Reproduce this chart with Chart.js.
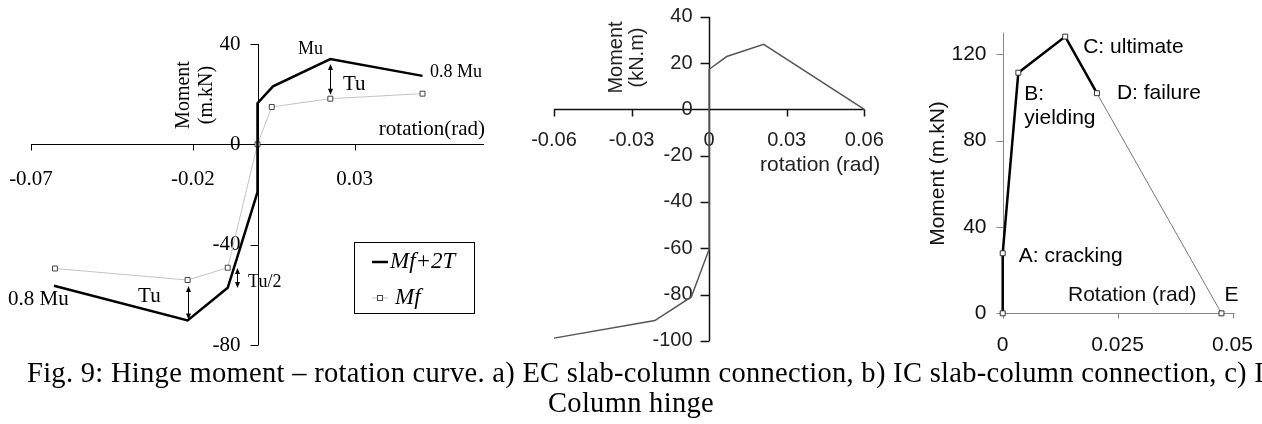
<!DOCTYPE html>
<html>
<head>
<meta charset="utf-8">
<script src="https://cdn.jsdelivr.net/npm/chart.js"></script>
<style>
body { margin: 0; background: #fff; width: 1262px; height: 424px; overflow: hidden; position: relative; }
canvas { position: absolute; top: 0; }
.cap { position: absolute; font-family: "Liberation Serif", serif; font-size: 28.5px; line-height: 28.5px; letter-spacing: 0.3px; white-space: nowrap; color: #000; }
</style>
</head>
<body>
<canvas id="chartEC" width="500" height="370" style="left:0px"></canvas>
<canvas id="chartIC" width="400" height="370" style="left:500px"></canvas>
<canvas id="chartCol" width="362" height="370" style="left:900px"></canvas>
<div class="cap" style="left:27px; top:359px;">Fig. 9: Hinge moment – rotation curve. a) EC slab-column connection, b) IC slab-column connection, c) I</div>
<div class="cap" style="left:0; width:1262px; text-align:center; top:389px;">Column hinge</div>
<script>
// a) EC slab-column connection
var ecRotation = [-0.0629, -0.0216, -0.0092, 0, 0, 0, 0.0048, 0.0225, 0.051];
var ecMomentTotal = [-56.4, -70.2, -57.2, -19.1, 0, 16.4, 23.1, 34, 27.3];
var ecRotationMf = [-0.0626, -0.0216, -0.0092, 0, 0.0044, 0.0225, 0.051];
var ecMomentMf = [-49.5, -54.1, -49.2, 0, 14.9, 18.2, 20.2];
var ecXTicks = [-0.07, -0.02, 0.03];
var ecXLabels = ['-0.07', '-0.02', '0.03'];
var ecYTicks = [40, 0, -40, -80];
var ecYLabels = ['40', '0', '-40', '-80'];

// b) IC slab-column connection
var icRotation = [-0.06, -0.021, -0.0069, 0, 0, 0.0068, 0.0211, 0.06];
var icMoment = [-98.8, -91.2, -81, -60.4, 17.3, 22.8, 28.1, 0];
var icXTicks = [-0.06, -0.03, 0, 0.03, 0.06];
var icXLabels = ['-0.06', '-0.03', '0', '0.03', '0.06'];
var icYTicks = [40, 20, 0, -20, -40, -60, -80, -100];
var icYLabels = ['40', '20', '0', '-20', '-40', '-60', '-80', '-100'];

// c) Column hinge
var colRotation = [0, 0, 0.0034, 0.0136, 0.0205];
var colMoment = [0, 27.8, 111.4, 128.1, 101.9];
var colFailRotation = [0.0205, 0.0476];
var colFailMoment = [101.9, 0];
var colPointLabels = ['', 'A: cracking', 'B:|yielding', 'C: ultimate', 'D: failure', 'E'];
var colXTicks = [0, 0.025, 0.05];
var colXLabels = ['0', '0.025', '0.05'];
var colYTicks = [0, 40, 80, 120];
var colYLabels = ['0', '40', '80', '120'];

var SERIF = '"Liberation Serif", serif';
var SANS = '"Liberation Sans", Arial, sans-serif';

function pts(xs, ys) {
    var out = [];
    for (var i = 0; i < xs.length; i++) {
        out.push({x: xs[i], y: ys[i]});
    }
    return out;
}

// crossing axes drawn from the chart's own scales
function axesPlugin(o) {
    return {
        id: 'crossAxes',
        beforeDatasetsDraw: function (chart) {
            var ctx = chart.ctx, sx = chart.scales.x, sy = chart.scales.y;
            var ax = Math.round(sx.getPixelForValue(0)) + 0.5;
            var ay = Math.round(sy.getPixelForValue(0)) + 0.5;
            ctx.save();
            ctx.strokeStyle = o.color;
            ctx.lineWidth = o.width;
            ctx.beginPath();
            ctx.moveTo(sx.getPixelForValue(o.xLine[0]), ay);
            ctx.lineTo(sx.getPixelForValue(o.xLine[1]), ay);
            ctx.moveTo(ax, sy.getPixelForValue(o.yLine[0]));
            ctx.lineTo(ax, sy.getPixelForValue(o.yLine[1]));
            o.xTicks.forEach(function (v) {
                var x = Math.round(sx.getPixelForValue(v)) + 0.5;
                ctx.moveTo(x, ay);
                ctx.lineTo(x, ay + o.xTickLen);
            });
            o.yTicks.forEach(function (v) {
                var y = Math.round(sy.getPixelForValue(v)) + 0.5;
                ctx.moveTo(ax, y);
                ctx.lineTo(ax - o.yTickLen, y);
            });
            ctx.stroke();
            ctx.fillStyle = o.textColor;
            ctx.font = o.font;
            ctx.textAlign = 'center';
            ctx.textBaseline = 'middle';
            o.xTicks.forEach(function (v, i) {
                ctx.fillText(o.xLabels[i], sx.getPixelForValue(v), ay + o.xLabelDy);
            });
            ctx.textAlign = 'right';
            o.yTicks.forEach(function (v, i) {
                ctx.fillText(o.yLabels[i], ax - o.yLabelDx, sy.getPixelForValue(v));
            });
            ctx.restore();
        }
    };
}

function drawArrow(ctx, x, y1, y2) {
    ctx.beginPath();
    ctx.moveTo(x, y1 + 3);
    ctx.lineTo(x, y2 - 3);
    ctx.stroke();
    [[y1, -1], [y2, 1]].forEach(function (h) {
        ctx.beginPath();
        ctx.moveTo(x, h[0]);
        ctx.lineTo(x - 2.5, h[0] - h[1] * 6);
        ctx.lineTo(x + 2.5, h[0] - h[1] * 6);
        ctx.closePath();
        ctx.fill();
    });
}

// text, arrows and legend on top of the data
function notesPlugin(o) {
    return {
        id: 'notes',
        afterDatasetsDraw: function (chart) {
            var ctx = chart.ctx, sx = chart.scales.x, sy = chart.scales.y;
            ctx.save();
            ctx.fillStyle = '#000';
            ctx.strokeStyle = '#000';
            ctx.lineWidth = 1;
            ctx.textBaseline = 'middle';
            (o.texts || []).forEach(function (t) {
                var x = t.px !== undefined ? t.px : sx.getPixelForValue(t.x);
                var y = t.py !== undefined ? t.py : sy.getPixelForValue(t.y);
                ctx.font = t.font;
                ctx.fillStyle = t.color || '#000';
                ctx.textAlign = t.align || 'left';
                if (t.rotate) {
                    ctx.save();
                    ctx.translate(x, y);
                    ctx.rotate(-Math.PI / 2);
                    ctx.textAlign = 'center';
                    ctx.fillText(t.text, 0, 0);
                    ctx.restore();
                } else {
                    ctx.fillText(t.text, x, y);
                }
            });
            ctx.fillStyle = '#000';
            (o.arrows || []).forEach(function (a) {
                var x = Math.round(sx.getPixelForValue(a.x)) + 0.5;
                drawArrow(ctx, x, sy.getPixelForValue(a.from), sy.getPixelForValue(a.to));
            });
            if (o.pointLabels) {
                var meta = chart.getDatasetMeta(o.pointLabels.dataset);
                ctx.font = o.pointLabels.font;
                ctx.textAlign = 'left';
                o.pointLabels.labels.forEach(function (lab, i) {
                    if (!lab) return;
                    var el = meta.data[i];
                    var off = o.pointLabels.offsets[i];
                    lab.split('|').forEach(function (line, k) {
                        ctx.fillText(line, el.x + off[0], el.y + off[1] + k * 24);
                    });
                });
            }
            if (o.legend) {
                var L = o.legend;
                ctx.lineWidth = 1;
                ctx.strokeStyle = '#000';
                ctx.strokeRect(L.left + 0.5, L.top + 0.5, L.width, L.height);
                ctx.font = L.font;
                ctx.textAlign = 'left';
                chart.data.datasets.forEach(function (ds, i) {
                    var y = L.top + L.rows[i];
                    ctx.strokeStyle = ds.borderColor;
                    ctx.lineWidth = ds.borderWidth;
                    ctx.beginPath();
                    ctx.moveTo(L.left + 18, y);
                    ctx.lineTo(L.left + 34, y);
                    ctx.stroke();
                    if (ds.pointRadius) {
                        ctx.fillStyle = ds.pointBackgroundColor;
                        ctx.strokeStyle = ds.pointBorderColor;
                        ctx.lineWidth = 1;
                        ctx.fillRect(L.left + 23.5, y - 2.5, 5, 5);
                        ctx.strokeRect(L.left + 23.5, y - 2.5, 5, 5);
                    }
                    ctx.fillStyle = '#000';
                    ctx.fillText(ds.label, L.left + L.textX[i], y);
                });
            }
            ctx.restore();
        }
    };
}

function opts(pad, xMin, xMax, yMin, yMax) {
    return {
        responsive: false,
        animation: false,
        events: [],
        layout: {padding: pad},
        plugins: {legend: {display: false}, tooltip: {enabled: false}},
        scales: {
            x: {type: 'linear', min: xMin, max: xMax, display: false},
            y: {type: 'linear', min: yMin, max: yMax, display: false}
        }
    };
}

// ---- a) EC ----
new Chart(document.getElementById('chartEC'), {
    type: 'scatter',
    data: {
        datasets: [
            {
                label: 'Mf+2T',
                data: pts(ecRotation, ecMomentTotal),
                showLine: true,
                borderColor: '#000',
                borderWidth: 2.5,
                pointRadius: 0,
                clip: false
            },
            {
                label: 'Mf',
                data: pts(ecRotationMf, ecMomentMf),
                showLine: true,
                borderColor: '#c4c4c4',
                borderWidth: 1,
                pointStyle: 'rect',
                pointRadius: 3.5,
                pointBackgroundColor: '#fff',
                pointBorderColor: '#444',
                pointBorderWidth: 1,
                clip: false
            }
        ]
    },
    options: opts({left: 31, right: 16, top: 44, bottom: 25}, -0.07, 0.07, -80, 40),
    plugins: [
        axesPlugin({
            color: '#000', width: 1, textColor: '#000', font: '21px ' + SERIF,
            xLine: [-0.07, 0.07], yLine: [-80, 40],
            xTicks: ecXTicks, xLabels: ecXLabels, yTicks: ecYTicks, yLabels: ecYLabels,
            xTickLen: 6, yTickLen: 8, xLabelDy: 35, yLabelDx: 18
        }),
        notesPlugin({
            texts: [
                {x: 0.0164, y: 38.0, text: 'Mu', font: '18px ' + SERIF, align: 'center'},
                {x: 0.0533, y: 28.8, text: '0.8 Mu', font: '18px ' + SERIF},
                {x: 0.0264, y: 24.0, text: 'Tu', font: '21px ' + SERIF},
                {x: 0.0703, y: 6.1, text: 'rotation(rad)', font: '21px ' + SERIF, align: 'right'},
                {x: -0.0771, y: -61.7, text: '0.8 Mu', font: '21px ' + SERIF},
                {x: -0.0369, y: -60.5, text: 'Tu', font: '21px ' + SERIF},
                {x: -0.0029, y: -54.9, text: 'Tu/2', font: '18px ' + SERIF},
                {px: 183.5, py: 95, text: 'Moment', font: '20px ' + SERIF, rotate: true},
                {px: 207, py: 95, text: '(m.kN)', font: '20px ' + SERIF, rotate: true}
            ],
            arrows: [
                {x: 0.0225, from: 32, to: 19.8},
                {x: -0.0216, from: -56.5, to: -69.8},
                {x: -0.0063, from: -49.3, to: -57.3}
            ],
            legend: {
                left: 354, top: 242, width: 120, height: 71, font: 'italic 23px ' + SERIF,
                rows: [20, 56], textX: [36, 41]
            }
        })
    ]
});

// ---- b) IC ----
new Chart(document.getElementById('chartIC'), {
    type: 'scatter',
    data: {
        datasets: [{
            label: 'IC',
            data: pts(icRotation, icMoment),
            showLine: true,
            borderColor: '#555',
            borderWidth: 1.5,
            pointRadius: 0,
            clip: false
        }]
    },
    options: opts({left: 54, right: 35.7, top: 16.7, bottom: 29.1}, -0.06, 0.06, -100, 40),
    plugins: [
        axesPlugin({
            color: '#111', width: 1.5, textColor: '#222', font: '20px ' + SANS,
            xLine: [-0.06, 0.06], yLine: [-100, 40],
            xTicks: icXTicks, xLabels: icXLabels, yTicks: icYTicks, yLabels: icYLabels,
            xTickLen: 7, yTickLen: 9, xLabelDy: 31, yLabelDx: 17
        }),
        notesPlugin({
            texts: [
                {px: 116, py: 57.5, text: 'Moment', font: '20px ' + SANS, color: '#222', rotate: true},
                {px: 137, py: 57.5, text: '(kN.m)', font: '20px ' + SANS, color: '#222', rotate: true},
                {px: 260, py: 165, text: 'rotation (rad)', font: '21px ' + SANS, color: '#222'}
            ]
        })
    ]
});

// ---- c) Column hinge ----
new Chart(document.getElementById('chartCol'), {
    type: 'scatter',
    data: {
        datasets: [
            {
                label: 'hinge',
                data: pts(colRotation, colMoment).concat([{x: colFailRotation[1], y: colFailMoment[1]}]),
                showLine: true,
                borderColor: '#000',
                borderWidth: 2.5,
                segment: {
                    borderColor: function (c) { return c.p1DataIndex === 5 ? '#777' : '#000'; },
                    borderWidth: function (c) { return c.p1DataIndex === 5 ? 1 : 2.5; }
                },
                pointStyle: 'rect',
                pointRadius: 3.5,
                pointBackgroundColor: '#fff',
                pointBorderColor: '#333',
                pointBorderWidth: 1,
                clip: false
            }
        ]
    },
    options: opts({left: 102.7, right: 29.5, top: 32.5, bottom: 56.7}, 0, 0.05, 0, 130),
    plugins: [
        axesPlugin({
            color: '#888', width: 1, textColor: '#111', font: '21px ' + SANS,
            xLine: [0, 0.0505], yLine: [0, 130],
            xTicks: colXTicks, xLabels: colXLabels, yTicks: colYTicks, yLabels: colYLabels,
            xTickLen: 5, yTickLen: 7, xLabelDy: 32, yLabelDx: 17
        }),
        notesPlugin({
            texts: [
                {px: 38, py: 173.5, text: 'Moment (m.kN)', font: '21px ' + SANS, color: '#111', rotate: true},
                {px: 168, py: 295, text: 'Rotation (rad)', font: '21px ' + SANS, color: '#111'}
            ],
            pointLabels: {
                dataset: 0,
                font: '21px ' + SANS,
                labels: colPointLabels,
                offsets: [[0, 0], [16, 3], [6, 22], [18, 11], [20, 0], [3, -18]]
            }
        })
    ]
});
</script>
</body>
</html>
